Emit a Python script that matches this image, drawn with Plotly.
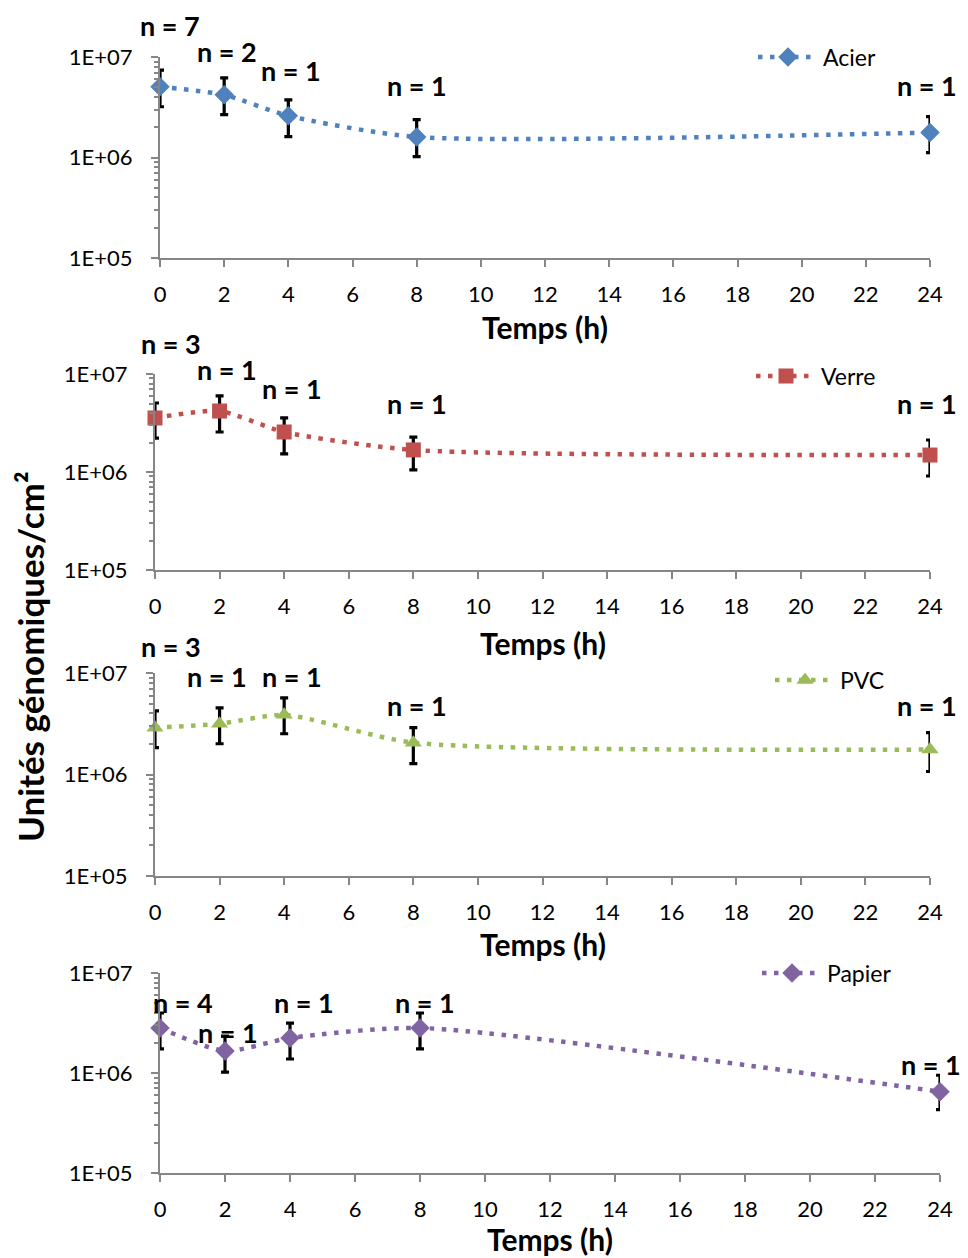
import plotly.graph_objects as go

# ---------------- data ----------------
times = [0, 2, 4, 8, 24]

acier = [5.05e6, 4.2e6, 2.6e6, 1.6e6, 1.77e6]
acier_hi = [7.4e6, 6.2e6, 3.75e6, 2.38e6, 2.55e6]
acier_lo = [3.2e6, 2.67e6, 1.61e6, 1.02e6, 1.12e6]
acier_n = [7, 2, 1, 1, 1]

verre = [3.56e6, 4.19e6, 2.56e6, 1.68e6, 1.49e6]
verre_hi = [5.06e6, 5.97e6, 3.56e6, 2.27e6, 2.12e6]
verre_lo = [2.22e6, 2.56e6, 1.53e6, 1.05e6, 0.91e6]
verre_n = [3, 1, 1, 1, 1]

pvc = [2.89e6, 3.16e6, 3.87e6, 2.06e6, 1.76e6]
pvc_hi = [4.24e6, 4.54e6, 5.69e6, 2.89e6, 2.58e6]
pvc_lo = [1.84e6, 2.01e6, 2.52e6, 1.28e6, 1.07e6]
pvc_n = [3, 1, 1, 1, 1]

papier = [2.82e6, 1.66e6, 2.24e6, 2.82e6, 6.5e5]
papier_hi = [3.98e6, 2.34e6, 3.16e6, 3.98e6, 9.5e5]
papier_lo = [1.74e6, 1.02e6, 1.38e6, 1.74e6, 4.3e5]
papier_n = [4, 1, 1, 1, 1]

series_names = ["Acier", "Verre", "PVC", "Papier"]
x_ticks = [0, 2, 4, 6, 8, 10, 12, 14, 16, 18, 20, 22, 24]
y_ticks = [1e5, 1e6, 1e7]
y_tick_labels = ["1E+05", "1E+06", "1E+07"]
x_title = "Temps (h)"
y_title = "Unités génomiques/cm²"

# ---------------- styling / layout ----------------
OFF = 8                      # page body margin
W, H = 968 - OFF, 1258 - OFF
FONT = "Lato"
colors = ["#4F81BD", "#C0504D", "#9BBB59", "#8064A2"]
symbols = ["diamond", "square", "triangle-up", "diamond"]
msizes = [15, 15, 15, 15]

# screen-pixel boxes of the four plot areas: (x0, x1, ytop, ybottom)
boxes = [(160, 930, 57, 258), (155, 930, 374, 570), (155, 930, 673, 876), (160, 940, 973, 1173)]
# n-label placement (log10 height, pixel x shift)
label_y = [[7.317, 7.05, 6.861, 6.713, 6.713],
           [7.316, 7.041, 6.847, 6.694, 6.694],
           [7.265, 6.97, 6.97, 6.676, 6.676],
           [6.71, 6.41, 6.71, 6.71, 6.09]]
label_dx = [[10, 3, 3, 0, -3],
            [16, 7, 8, 4, -3],
            [16, -3, 8, 4, -3],
            [23, 3, 14, 5, -9]]
# legend text start (screen px) and row centre
legend_pos = [(824, 57), (822, 376), (841, 680), (828, 973)]
LEG_TEXT_DX = 71
title_y = [327, 643, 944, 1239]

data = [(acier, acier_hi, acier_lo, acier_n),
        (verre, verre_hi, verre_lo, verre_n),
        (pvc, pvc_hi, pvc_lo, pvc_n),
        (papier, papier_hi, papier_lo, papier_n)]

minor_vals = [k * 10 ** e for e in (5, 6) for k in range(2, 10)]


def px(X):
    return (X - OFF) / W


def py(Y):
    return 1 - (Y - OFF) / H


fig = go.Figure()
annotations = []
layout = dict(
    width=W, height=H,
    margin=dict(l=0, r=0, t=0, b=0, autoexpand=False),
    paper_bgcolor="white", plot_bgcolor="white",
    font=dict(family=FONT, color="#000000", size=20),
    showlegend=True,
)

for i, (vals, hi, lo, ns) in enumerate(data):
    k = "" if i == 0 else str(i + 1)
    x0, x1, yt, yb = boxes[i]
    plus = [h - v for h, v in zip(hi, vals)]
    minus = [v - l for v, l in zip(vals, lo)]
    leg = "legend" + k
    fig.add_trace(go.Scatter(
        x=times, y=vals, name=series_names[i], mode="lines+markers",
        xaxis="x" + k, yaxis="y" + k, legend=leg,
        line=dict(color=colors[i], width=4.5, dash="4.5px,7.5px", shape="spline", smoothing=0.65),
        marker=dict(symbol=symbols[i], size=msizes[i], color=colors[i]),
        error_y=dict(type="data", symmetric=False, array=plus, arrayminus=minus,
                     color="black", thickness=3.2, width=4),
        cliponaxis=False,
    ))
    layout["xaxis" + k] = dict(
        domain=[px(x0), px(x1)], anchor="y" + k, range=[0, 24],
        tickmode="array", tickvals=x_ticks, ticks="outside", ticklen=7,
        tickwidth=2, tickcolor="#868686", showline=True, linecolor="#868686",
        linewidth=2, showgrid=False, zeroline=False, automargin=False,
        tickfont=dict(size=22, family=FONT, color="#000"), ticklabelstandoff=9,
    )
    layout["yaxis" + k] = dict(
        domain=[py(yb), py(yt)], anchor="x" + k, type="log", range=[5, 7],
        tickmode="array", tickvals=y_ticks, ticktext=y_tick_labels,
        ticks="outside", ticklen=7, tickwidth=2, tickcolor="#868686",
        minor=dict(tickmode="array", tickvals=minor_vals, ticks="outside",
                   ticklen=4, tickwidth=1.5, tickcolor="#868686", showgrid=False),
        showline=True, linecolor="#868686", linewidth=2, showgrid=False,
        zeroline=False, automargin=False,
        tickfont=dict(size=22, family=FONT, color="#000"), ticklabelstandoff=14,
    )
    lx, ly = legend_pos[i]
    layout[leg] = dict(x=px(lx - LEG_TEXT_DX), y=py(ly), xanchor="left", yanchor="middle",
                       bgcolor="rgba(0,0,0,0)", font=dict(size=23, family=FONT),
                       itemwidth=60)
    # n labels (positioned relative to the panel's y domain; log axis 5..7)
    for j, (t, n) in enumerate(zip(times, ns)):
        annotations.append(dict(
            x=t, y=(label_y[i][j] - 5) / 2, xref="x" + k, yref=f"y{k} domain",
            xshift=label_dx[i][j],
            text=f"<b>n = {n}</b>", showarrow=False,
            font=dict(size=27, family=FONT, color="#000"),
            xanchor="center", yanchor="middle",
        ))
    # axis title
    annotations.append(dict(
        x=0.5, y=-(title_y[i] - yb) / (yb - yt), xref=f"x{k} domain", yref=f"y{k} domain",
        text=f"<b>{x_title}</b>", showarrow=False,
        font=dict(size=30, family=FONT, color="#000"), xanchor="center", yanchor="middle",
    ))

annotations.append(dict(
    x=px(30), y=py(657), xref="paper", yref="paper", text=f"<b>{y_title}</b>",
    textangle=-90, showarrow=False, font=dict(size=35, family=FONT, color="#000"),
    xanchor="center", yanchor="middle",
))
layout["annotations"] = annotations
fig.update_layout(**layout)
fig.write_html("out.html")
